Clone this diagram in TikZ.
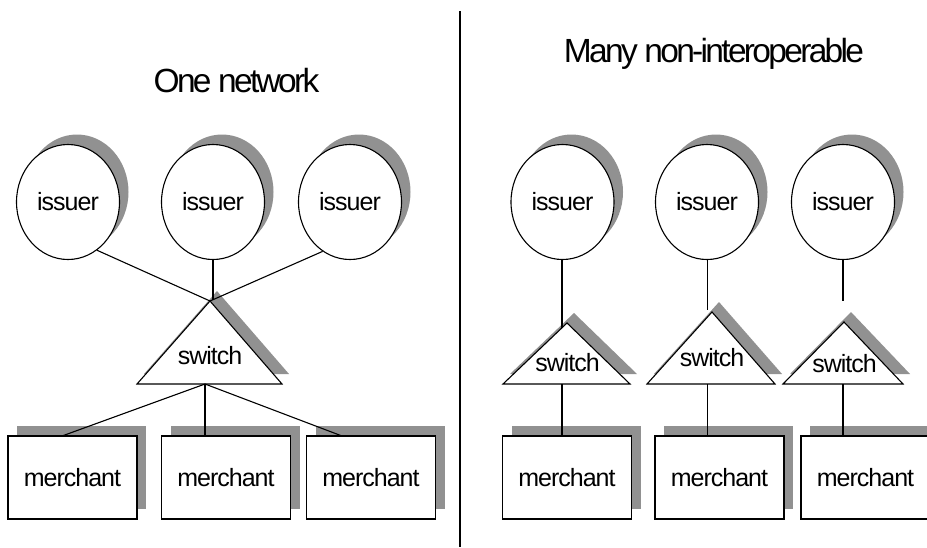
\documentclass[tikz,border=0pt]{standalone}
\usepackage{fontspec}
\setmainfont{Liberation Sans}
\newfontfamily\lblfont{Liberation Sans}[LetterSpace=-4]
\newfontfamily\ttlfont{Liberation Sans}[LetterSpace=-8]
\usetikzlibrary{calc,shapes.geometric}
\definecolor{shadowgray}{RGB}{145,145,145}
\begin{document}
\begin{tikzpicture}[x=1pt,y=-1pt,
  lbl/.style={font=\lblfont\fontsize{25}{25}\selectfont, inner sep=0pt},
  ttl/.style={font=\ttlfont\fontsize{33.5}{33.5}\selectfont, inner sep=0pt, anchor=base},
  issuer/.style={ellipse, draw, line width=1.1pt, fill=white, minimum width=103pt, minimum height=115pt, inner sep=0pt, font=\lblfont\fontsize{25}{25}\selectfont},
  ishadow/.style={ellipse, fill=shadowgray, minimum width=103pt, minimum height=115pt, inner sep=0pt},
  merchant/.style={rectangle, draw, line width=1.1pt, fill=white, minimum width=129pt, minimum height=83pt, inner sep=0pt, font=\lblfont\fontsize{25}{25}\selectfont},
  mshadow/.style={rectangle, fill=shadowgray, minimum width=129pt, minimum height=83pt, inner sep=0pt},
  tri/.style={draw, line width=1.1pt, fill=white, line join=miter},
  conn/.style={line width=1.1pt},
  divider/.style={line width=2pt}
]
\useasboundingbox (0,0) rectangle (927,547);

% titles
\node[ttl] (t1) at (236.5,92) {One network};
\node[ttl] (t2) at (714,62) {Many non-interoperable};

% divider
\coordinate (dtop) at (460,11);
\coordinate (dbot) at (460,547);
\draw[divider] (dtop) -- (dbot);

% ---------- left side ----------
\foreach \n/\x in {a/68,b/213,c/350}{
  \node[ishadow] (sh-\n) at (\x+9,192) {};
  \node[issuer] (iss-\n) at (\x,202) {issuer};
}
% switch (left)
\coordinate (LA) at (210,301);
\coordinate (LBL) at (137,384);
\coordinate (LBR) at (282,384);
\fill[shadowgray] ($(LA)+(7,-10)$) -- ($(LBL)+(7,-10)$) -- ($(LBR)+(7,-10)$) -- cycle;
\draw[tri] (LA) -- (LBL) -- (LBR) -- cycle;
\node[lbl] (sw-l) at (210,356) {switch};

\foreach \n/\x in {a/72.5,b/226,c/371}{
  \node[mshadow] (msh-\n) at (\x+9,467.5) {};
  \node[merchant] (mer-\n) at (\x,477.5) {merchant};
}
% connectors left
\coordinate (LS) at (205,384);
\coordinate (LA2) at (213,300);
\coordinate (ma) at (62,436);
\coordinate (mc) at (342,436);
\draw[conn] (iss-a.-59) -- (LA);
\draw[conn] (iss-b) -- (LA2);
\draw[conn] (iss-c.-119) -- (LA);
\draw[conn] (LS) -- (ma);
\draw[conn] (LS) -- (LS |- mer-b.north);
\draw[conn] (LS) -- (mc);

% ---------- right side ----------
\foreach \n/\x in {d/562.5,e/707,f/843}{
  \node[ishadow] (sh-\n) at (\x+9,192) {};
  \node[issuer] (iss-\n) at (\x,202) {issuer};
}
% switches (right)
\coordinate (A1) at (567,323);  \coordinate (B1L) at (503,384); \coordinate (B1R) at (630,384);
\coordinate (A2) at (712,312);  \coordinate (B2L) at (647,384); \coordinate (B2R) at (775,384);
\coordinate (A3) at (844,322);  \coordinate (B3L) at (783,384); \coordinate (B3R) at (903,384);
\foreach \i in {1,2,3}{
  \fill[shadowgray] ($(A\i)+(7,-10)$) -- ($(B\i L)+(7,-10)$) -- ($(B\i R)+(7,-10)$) -- cycle;
  \draw[tri] (A\i) -- (B\i L) -- (B\i R) -- cycle;
}
\node[lbl] (sw-1) at (567.5,363) {switch};
\node[lbl] (sw-2) at (712,357.5) {switch};
\node[lbl] (sw-3) at (844.5,363.5) {switch};

\foreach \n/\x in {d/567,e/719.5,f/865.5}{
  \node[mshadow] (msh-\n) at (\x+9,467.5) {};
  \node[merchant] (mer-\n) at (\x,477.5) {merchant};
}
% connectors right
\coordinate (e1) at (562,328);
\coordinate (e2) at (707.5,310);
\coordinate (e3) at (843,301);
\coordinate (s1) at (562,384);
\coordinate (s2) at (707.5,384);
\coordinate (s3) at (843,384);
\draw[conn] (iss-d.south -| e1) -- (e1);
\draw[conn] (iss-e.south -| e2) -- (e2);
\draw[conn] (iss-f.south -| e3) -- (e3);
\draw[conn] (s1) -- (s1 |- mer-d.north);
\draw[conn] (s2) -- (s2 |- mer-e.north);
\draw[conn] (s3) -- (s3 |- mer-f.north);
\end{tikzpicture}
\end{document}
